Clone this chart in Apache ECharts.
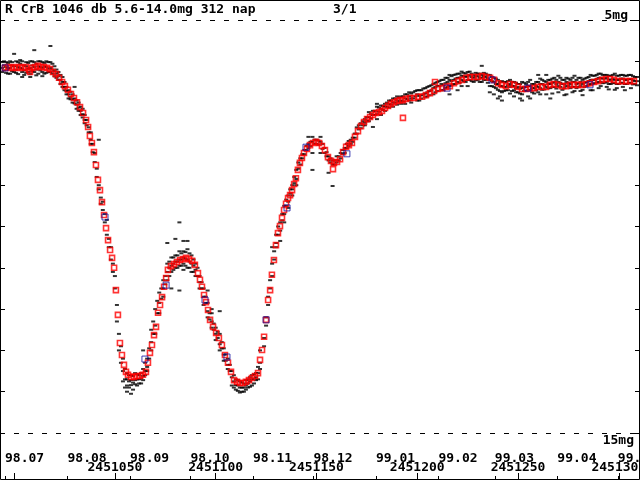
<!DOCTYPE html>
<html>
<head>
<meta charset="utf-8">
<script src="https://cdn.jsdelivr.net/npm/echarts@6/dist/echarts.min.js"></script>
<style>
  html, body { margin: 0; padding: 0; background: #fff; }
  #chart { width: 640px; height: 480px; }
</style>
</head>
<body>
<div id="chart"></div>
<script>
// days are counted from JD 2451000
var JD0 = 2451000

var titleText = 'R CrB 1046 db 5.6-14.0mg 312 nap'
var pageText = '3/1'

// month starts (JD) and their labels
var monthTicks = [2450995.5, 2451026.5, 2451057.5, 2451087.5, 2451118.5, 2451148.5,
  2451179.5, 2451210.5, 2451238.5, 2451269.5, 2451299.5]
var monthLabels = ['98.07', '98.08', '98.09', '98.10', '98.11', '98.12',
  '99.01', '99.02', '99.03', '99.04', '99.05']
var jdTicks = [2451000, 2451050, 2451100, 2451150, 2451200, 2451250, 2451300]
var jdLabels = [2451050, 2451100, 2451150, 2451200, 2451250, 2451300]
var magTicks = [5, 6, 7, 8, 9, 10, 11, 12, 13, 14, 15]

// single observations, grouped per day: [day, [mags]] (even days)
var observations = [
  [-6, [6.16, 6.02, 6.26]], [-4, [6.14, 6.28, 6.02]], [-2, [6.0, 6.16, 6.30]],
  [0, [6.12, 6.26, 5.82]], [2, [6.02, 6.14, 6.31]], [4, [6.0, 6.18, 6.26, 6.38]],
  [6, [6.02, 6.12, 6.28]], [8, [6.0, 6.16, 6.31, 6.38]], [10, [6.02, 6.14, 6.26, 5.73]],
  [12, [6.0, 6.12, 6.30]], [14, [6.02, 6.16, 6.26, 6.36]], [16, [6.0, 6.14, 6.28]],
  [18, [5.63, 6.02, 6.16, 6.26]], [20, [6.12, 6.24, 6.36]], [22, [6.26, 6.36, 6.45]],
  [24, [6.38, 6.50, 6.62]], [26, [6.62, 6.72, 6.80]], [28, [6.74, 6.86, 6.92]],
  [30, [6.62, 6.90, 7.02]], [32, [7.0, 7.12, 7.2]], [34, [7.15, 7.28, 7.36]],
  [36, [7.42, 7.55]], [38, [7.72, 7.9, 8.0]], [40, [8.22, 8.44]],
  [42, [9.0, 9.1, 7.9]], [44, [9.4, 9.6]], [46, [9.84, 10.2]], [48, [10.5, 10.8]],
  [50, [11.2, 11.5]], [51, [11.9, 12.3]], [52, [12.6, 13.0]], [53, [12.9, 13.3]],
  [54, [13.2, 13.5, 13.75]], [55, [13.45, 13.7, 13.9]], [56, [13.55, 13.7, 13.85, 14.0]],
  [58, [13.6, 13.72, 13.84, 14.05]], [60, [13.55, 13.72, 13.82]], [62, [13.6, 13.7, 13.8]],
  [64, [13.45, 13.62, 13.72, 13.0]], [66, [13.2, 13.4, 13.5]], [67, [12.95, 13.2]],
  [68, [12.5, 12.8, 13.0]], [70, [12.0, 12.4, 12.6]], [72, [11.6, 11.85, 12.1]],
  [74, [11.3, 11.5, 11.7]], [76, [10.9, 11.1, 11.3, 10.4]], [78, [10.75, 10.95, 11.1, 11.5]],
  [80, [10.7, 10.85, 11.0, 10.3]], [82, [10.6, 10.8, 10.95, 11.55, 9.9]],
  [84, [10.6, 10.75, 10.9, 10.35, 11.05]], [86, [10.55, 10.8, 11.0, 10.35]],
  [88, [10.7, 10.9, 11.1]], [90, [10.9, 11.05, 11.2]], [92, [11.2, 11.35, 11.5]],
  [94, [11.5, 11.7, 11.9]], [96, [11.85, 12.05, 12.2, 11.55]], [98, [12.1, 12.3, 12.45, 12.0]],
  [100, [12.45, 12.6, 12.75]], [102, [12.6, 12.85, 13.0, 12.05]], [104, [12.95, 13.1, 13.25]],
  [106, [13.2, 13.35, 13.45]], [108, [13.5, 13.65, 13.85]], [110, [13.7, 13.84, 13.95]],
  [112, [13.75, 13.9, 14.02]], [114, [13.8, 13.9, 14.0]], [116, [13.7, 13.8, 13.9]],
  [118, [13.6, 13.7, 13.85]], [120, [13.55, 13.65, 13.72]], [122, [13.0, 13.3, 13.45]],
  [124, [12.7, 12.9]], [126, [11.7, 11.9]], [128, [10.9, 11.2, 10.5]], [130, [10.2, 10.5, 10.4]],
  [132, [9.9, 10.1, 10.35]], [134, [9.5, 9.7, 9.9]], [136, [9.25, 9.4, 9.55]],
  [138, [9.0, 9.1, 9.25]], [140, [8.63, 8.85, 9.0]], [142, [8.35, 8.5]], [144, [8.15, 8.25]],
  [146, [7.83, 8.0, 8.1]], [148, [7.83, 7.95, 8.22, 8.63]], [150, [7.9, 8.0]],
  [152, [7.83, 7.95, 8.22]], [154, [8.1, 8.22]], [156, [8.3, 8.4, 8.7]], [158, [8.4, 8.5, 9.02]],
  [160, [8.3, 8.45]], [162, [8.22, 8.35]], [164, [8.1, 8.22]], [166, [7.93, 8.05]],
  [168, [7.85, 7.95]], [170, [7.6, 7.75]], [172, [7.5, 7.62]], [174, [7.4, 7.49, 7.55]],
  [176, [7.23, 7.35, 7.45]], [178, [7.2, 7.3, 7.59]], [180, [7.03, 7.1, 7.28, 7.4]],
  [182, [7.07, 7.15, 7.3]], [184, [7.03, 7.1, 7.2]], [186, [6.95, 7.03, 7.12]],
  [188, [6.9, 7.0, 7.1]], [190, [6.85, 6.95, 7.05]], [192, [6.85, 6.95, 7.03]],
  [194, [6.8, 6.9, 7.03]], [196, [6.75, 6.85, 6.95]], [198, [6.75, 6.9]],
  [200, [6.7, 6.8, 6.95]], [202, [6.7, 6.82, 6.9]], [204, [6.65, 6.78, 6.87]],
  [206, [6.6, 6.72, 6.82]], [208, [6.55, 6.65, 6.8]], [210, [6.5, 6.6, 6.72]],
  [212, [6.45, 6.55, 6.7]], [214, [6.4, 6.53, 6.65]], [216, [6.33, 6.45, 6.6, 6.8]],
  [218, [6.33, 6.45, 6.55]], [220, [6.3, 6.4, 6.5, 6.7]], [222, [6.25, 6.35, 6.45, 6.6]],
  [224, [6.3, 6.38, 6.5]], [226, [6.25, 6.33, 6.45]], [228, [6.33, 6.4, 6.5]],
  [230, [6.3, 6.36, 6.45]], [232, [6.11, 6.33, 6.4, 6.5]], [234, [6.3, 6.38, 6.45]],
  [236, [6.33, 6.45, 6.6, 6.75]], [238, [6.4, 6.5, 6.62, 6.8]], [240, [6.45, 6.55, 6.69, 6.9]],
  [242, [6.48, 6.6, 6.75, 6.95]], [244, [6.5, 6.62, 6.7]], [246, [6.45, 6.55, 6.62, 6.78]],
  [248, [6.5, 6.6, 6.7, 6.85]], [250, [6.55, 6.62, 6.75]], [252, [6.5, 6.65, 6.8, 6.95]],
  [254, [6.55, 6.62, 6.72]], [256, [6.45, 6.6, 6.7, 6.9]], [258, [6.55, 6.65, 6.78]],
  [260, [6.33, 6.5, 6.62, 6.75]], [262, [6.45, 6.55, 6.69]], [264, [6.33, 6.5, 6.62, 6.8]],
  [266, [6.45, 6.55, 6.65, 6.9]], [268, [6.4, 6.5, 6.62]], [270, [6.35, 6.5, 6.6, 6.75]],
  [272, [6.45, 6.55, 6.69]], [274, [6.4, 6.5, 6.6, 6.8]], [276, [6.45, 6.55, 6.65]],
  [278, [6.35, 6.5, 6.62, 6.72]], [280, [6.4, 6.53, 6.62]], [282, [6.45, 6.55, 6.69, 6.82]],
  [284, [6.4, 6.5, 6.6]], [286, [6.33, 6.45, 6.55, 6.7]], [288, [6.35, 6.45, 6.53]],
  [290, [6.3, 6.4, 6.5, 6.65]], [292, [6.33, 6.42, 6.53]], [294, [6.33, 6.4, 6.5, 6.62]],
  [296, [6.35, 6.45, 6.55]], [298, [6.3, 6.45, 6.53, 6.69]], [300, [6.35, 6.45, 6.55]],
  [302, [6.33, 6.42, 6.53, 6.62]], [304, [6.35, 6.45, 6.55]], [306, [6.33, 6.43, 6.53, 6.65]],
  [308, [6.38, 6.48, 6.55]]
]

// more observations (odd days)
var observationsOdd = [
  [-5, [6.1, 6.22, 6.0]], [-3, [6.04, 6.18, 6.3]], [-1, [6.1, 6.24, 6.02]], [1, [6.0, 6.2, 6.28]],
  [3, [6.06, 6.16, 5.97]], [5, [6.1, 6.22, 6.33]], [7, [6.04, 6.18, 6.26]], [9, [6.0, 6.1, 6.24]],
  [11, [6.06, 6.2, 6.34]], [13, [6.0, 6.14, 6.22]], [15, [6.04, 6.12, 6.3]], [17, [6.02, 6.18, 6.26]],
  [19, [6.06, 6.2, 6.3]], [21, [6.2, 6.3, 6.4]], [23, [6.33, 6.45, 6.55]],
  [25, [6.5, 6.62, 6.7]], [27, [6.7, 6.8, 6.9]], [29, [6.8, 6.92, 7.0]], [31, [6.95, 7.05, 7.15]],
  [33, [7.1, 7.2, 7.3]], [35, [7.3, 7.42, 7.5]], [37, [7.6, 7.72]], [39, [8.0, 8.2]],
  [41, [8.6, 8.8]], [43, [9.3, 9.45]], [45, [9.7, 9.9]], [47, [10.3, 10.5]], [49, [10.9, 11.1]],
  [57, [13.6, 13.75, 13.9]], [59, [13.62, 13.78, 13.95]], [61, [13.58, 13.7, 13.85]],
  [63, [13.55, 13.68, 13.8]], [65, [13.3, 13.5, 13.6]], [69, [12.3, 12.6]], [71, [11.8, 12.1]],
  [73, [11.5, 11.75]], [75, [11.2, 11.4]], [77, [10.85, 11.0, 11.2]], [79, [10.75, 10.9, 11.05]],
  [81, [10.7, 10.85, 11.0]], [83, [10.65, 10.8, 10.95]], [85, [10.62, 10.78, 10.95]],
  [87, [10.65, 10.85, 11.0]], [89, [10.8, 10.95, 11.1]], [91, [11.0, 11.2]], [93, [11.35, 11.5]],
  [95, [11.7, 11.85]], [97, [12.1, 12.25]], [99, [12.35, 12.5]], [101, [12.55, 12.7]],
  [103, [12.8, 12.95]], [105, [13.1, 13.25]], [107, [13.35, 13.5]], [109, [13.6, 13.75, 13.9]],
  [111, [13.72, 13.85, 13.98]], [113, [13.78, 13.9, 14.0]], [115, [13.72, 13.85, 13.95]],
  [117, [13.65, 13.75, 13.88]], [119, [13.58, 13.68, 13.8]], [121, [13.4, 13.55, 13.7]],
  [125, [12.2, 12.4]], [127, [11.3, 11.5]], [129, [10.6, 10.8]], [131, [10.0, 10.2]],
  [133, [9.7, 9.85]], [135, [9.35, 9.5]], [137, [9.1, 9.2]], [139, [8.8, 8.95]],
  [141, [8.45, 8.6]], [143, [8.25, 8.35]], [145, [8.05, 8.15]], [147, [7.95, 8.05]],
  [149, [7.9, 8.0]], [151, [7.92, 8.02]], [153, [8.0, 8.12]], [155, [8.2, 8.3]],
  [157, [8.35, 8.45]], [159, [8.4, 8.5]], [161, [8.3, 8.4]], [163, [8.15, 8.25]],
  [165, [8.0, 8.1]], [167, [7.9, 8.0]], [169, [7.75, 7.85]], [171, [7.55, 7.65]],
  [173, [7.45, 7.55]], [175, [7.35, 7.45]], [177, [7.28, 7.38]], [179, [7.2, 7.3]],
  [181, [7.12, 7.22]], [183, [7.08, 7.18]], [185, [7.0, 7.1]], [187, [6.95, 7.05]], [189, [6.9, 7.0]],
  [191, [6.88, 6.98]], [193, [6.85, 6.97]], [195, [6.8, 6.92]], [197, [6.78, 6.9, 7.0]],
  [199, [6.72, 6.85]], [201, [6.7, 6.84, 6.95]], [203, [6.66, 6.8]], [205, [6.62, 6.75, 6.85]],
  [207, [6.58, 6.7]], [209, [6.52, 6.62, 6.75]], [211, [6.48, 6.6]], [213, [6.45, 6.58, 6.7]],
  [215, [6.4, 6.5, 6.62]], [217, [6.36, 6.48, 6.58]], [219, [6.32, 6.42, 6.55]],
  [221, [6.3, 6.4, 6.52]], [223, [6.28, 6.36, 6.48]], [225, [6.26, 6.36, 6.45, 6.6]],
  [227, [6.3, 6.38, 6.48]], [229, [6.28, 6.36, 6.46]], [231, [6.3, 6.4, 6.5]],
  [233, [6.28, 6.36, 6.45]], [235, [6.33, 6.42, 6.52]], [237, [6.38, 6.48, 6.6]],
  [239, [6.42, 6.55, 6.65]], [241, [6.5, 6.6, 6.72, 6.85]], [243, [6.5, 6.62, 6.72]],
  [245, [6.48, 6.58, 6.7]], [247, [6.5, 6.6, 6.72]], [249, [6.52, 6.65, 6.75]],
  [251, [6.55, 6.66, 6.78, 6.9]], [253, [6.52, 6.62, 6.72]], [255, [6.5, 6.6, 6.7, 6.85]],
  [257, [6.55, 6.65, 6.75]], [259, [6.5, 6.6, 6.7]], [261, [6.42, 6.55, 6.65, 6.8]],
  [263, [6.48, 6.58, 6.68]], [265, [6.45, 6.55, 6.65]], [267, [6.42, 6.52, 6.62, 6.78]],
  [269, [6.45, 6.55, 6.66]], [271, [6.4, 6.52, 6.62]], [273, [6.45, 6.55, 6.65, 6.82]],
  [275, [6.42, 6.52, 6.6]], [277, [6.4, 6.5, 6.62, 6.75]], [279, [6.45, 6.55, 6.65]],
  [281, [6.4, 6.5, 6.6, 6.72]], [283, [6.42, 6.52, 6.62]], [285, [6.38, 6.48, 6.58]],
  [287, [6.35, 6.45, 6.55, 6.7]], [289, [6.33, 6.43, 6.52]], [291, [6.3, 6.4, 6.5, 6.6]],
  [293, [6.33, 6.42, 6.52]], [295, [6.35, 6.44, 6.55, 6.68]], [297, [6.33, 6.43, 6.52]],
  [299, [6.35, 6.45, 6.55, 6.65]], [301, [6.33, 6.42, 6.52]], [303, [6.35, 6.45, 6.55, 6.7]],
  [305, [6.33, 6.43, 6.52]], [307, [6.36, 6.46, 6.56]], [309, [6.38, 6.48, 6.58]]
]

// running means (red squares): [day, mag]
var means = [
  [-4.5, 6.16], [-3, 6.14], [-1.5, 6.16], [0, 6.14], [1.4, 6.16], [2.9, 6.14], [4.4, 6.16],
  [5.9, 6.14], [7.4, 6.21], [7.9, 6.26], [8.9, 6.16], [10.4, 6.14], [11.9, 6.11], [13.3, 6.14],
  [14.8, 6.14], [16.3, 6.16], [17.8, 6.19], [19.3, 6.26], [20.8, 6.31], [22.3, 6.40],
  [23.8, 6.50], [25.2, 6.60], [26.7, 6.69], [28.2, 6.79], [29.7, 6.89], [31.2, 6.99],
  [32.7, 7.11], [34.2, 7.25], [35.7, 7.42], [36.7, 7.59], [37.6, 7.81], [38.6, 7.98],
  [39.6, 8.20], [40.6, 8.51], [41.6, 8.87], [42.6, 9.12], [43.6, 9.41], [44.6, 9.72],
  [45.6, 10.04], [46.6, 10.33], [47.6, 10.57], [48.6, 10.76], [49.6, 11.00], [50.5, 11.54],
  [51.5, 12.14], [52.5, 12.82], [53.5, 13.11], [54.5, 13.35], [55.5, 13.52], [56.5, 13.59],
  [58.0, 13.64], [59.5, 13.64], [61.0, 13.62], [62.5, 13.62], [63.9, 13.59], [65.4, 13.52],
  [66.4, 13.30], [67.4, 13.06], [68.4, 12.87], [69.4, 12.63], [70.4, 12.43], [71.4, 12.09],
  [72.4, 11.90], [73.4, 11.71], [74.4, 11.46], [75.4, 11.25], [76.3, 11.05], [77.8, 10.96],
  [79.3, 10.91], [80.8, 10.86], [82.3, 10.81], [83.8, 10.79], [85.3, 10.76], [86.8, 10.79],
  [88.3, 10.83], [89.7, 10.93], [91.2, 11.13], [92.2, 11.29], [93.2, 11.46], [94.2, 11.66],
  [95.2, 11.83], [96.2, 12.02], [97.2, 12.26], [98.7, 12.43], [100.2, 12.58], [101.6, 12.70],
  [103.1, 12.87], [104.6, 13.11], [106.1, 13.30], [107.6, 13.52], [109.1, 13.72],
  [110.6, 13.76], [112.1, 13.79], [113.6, 13.79], [115.0, 13.76], [116.5, 13.72],
  [118.0, 13.67], [119.5, 13.62], [121.0, 13.55], [122.0, 13.23], [123.0, 12.99],
  [124.0, 12.67], [125.0, 12.26], [126.0, 11.78], [127.0, 11.54], [127.9, 11.17],
  [128.9, 10.81], [129.9, 10.45], [130.9, 10.16], [131.9, 9.99], [132.9, 9.79], [133.9, 9.60],
  [134.9, 9.45], [135.9, 9.31], [136.9, 9.24], [137.9, 9.12], [138.9, 8.97], [139.8, 8.83],
  [140.8, 8.63], [141.8, 8.46], [142.8, 8.34], [143.8, 8.22], [145.3, 8.12], [146.8, 8.03],
  [148.3, 7.98], [149.8, 7.95], [151.3, 7.98], [152.7, 8.05], [154.2, 8.15], [155.7, 8.32],
  [157.2, 8.41], [158.2, 8.61], [158.7, 8.46], [160.2, 8.44], [161.7, 8.37], [163.2, 8.20],
  [164.7, 8.07], [166.1, 8.03], [167.6, 7.98], [169.1, 7.83], [170.6, 7.69], [172.1, 7.57],
  [173.6, 7.47], [175.1, 7.40], [176.6, 7.35], [178.0, 7.30], [179.5, 7.25], [181.0, 7.23],
  [182.5, 7.20], [184.0, 7.13], [185.5, 7.08], [187.0, 7.03], [188.5, 6.99], [190.0, 6.96],
  [191.4, 6.94], [192.9, 6.94], [192.9, 7.37], [194.4, 6.91], [196.4, 6.89], [198.4, 6.89],
  [200.4, 6.86], [202.4, 6.86], [204.3, 6.82], [206.3, 6.77], [208.3, 6.72], [208.8, 6.50],
  [210.3, 6.67], [212.3, 6.65], [214.3, 6.62], [216.2, 6.60], [218.2, 6.53], [220.2, 6.48],
  [222.2, 6.45], [224.2, 6.40], [226.2, 6.38], [228.2, 6.38], [230.1, 6.38], [232.1, 6.36],
  [234.1, 6.38], [236.1, 6.40], [238.1, 6.45], [240.1, 6.53], [242.0, 6.57], [244.0, 6.60],
  [246.0, 6.55], [248.0, 6.57], [250.0, 6.62], [252.0, 6.67], [254.0, 6.67], [255.9, 6.65],
  [257.9, 6.65], [259.9, 6.62], [261.9, 6.62], [263.9, 6.62], [265.9, 6.57], [267.8, 6.55],
  [269.8, 6.57], [271.8, 6.60], [273.8, 6.60], [275.8, 6.57], [277.8, 6.57], [279.7, 6.57],
  [281.7, 6.57], [283.7, 6.55], [285.7, 6.53], [287.7, 6.50], [289.7, 6.48], [291.7, 6.45],
  [293.6, 6.43], [295.6, 6.43], [297.6, 6.45], [299.6, 6.48], [301.6, 6.48], [303.6, 6.48],
  [305.5, 6.48], [307.5, 6.48]
]

// few means drawn in blue
var blueMeans = [
  [-4.5, 6.16], [45.1, 9.77], [64.9, 13.21], [75.4, 11.42], [94.7, 11.78], [105.6, 13.16],
  [125.0, 12.26], [135.4, 9.55], [144.8, 8.08], [165.1, 8.24], [214.8, 6.65], [237.1, 6.45],
  [254.9, 6.65], [285.7, 6.57]
]

var obsData = []
observations.concat(observationsOdd).forEach(function (row) {
  row[1].forEach(function (m) { obsData.push([JD0 + row[0], m]) })
})
var meanData = means.map(function (p) { return [JD0 + p[0], p[1]] })
var blueData = blueMeans.map(function (p) { return [JD0 + p[0], p[1]] })

var font = 'DejaVu Sans Mono'
var textStyle = { fontFamily: font, fontWeight: 'bold', fontSize: 13, color: '#000' }

var myChart = echarts.init(document.getElementById('chart'))
myChart.setOption({
  animation: false,
  backgroundColor: '#fff',
  grid: { left: 0, right: 0, top: 20, bottom: 47, outerBoundsMode: 'none', containLabel: false },
  xAxis: [
    {
      type: 'value', min: 2450993, max: 2451310.5, position: 'bottom', offset: 46,
      axisLine: { show: false }, splitLine: { show: false },
      axisTick: { inside: true, length: 3, lineStyle: { color: '#000' }, customValues: monthTicks },
      axisLabel: Object.assign({
        inside: true, margin: 14, align: 'left', customValues: monthTicks,
        formatter: function (v) {
          var i = monthTicks.indexOf(v)
          return i >= 0 ? monthLabels[i] : ''
        }
      }, textStyle)
    },
    {
      type: 'value', min: 2450993, max: 2451310.5, position: 'bottom', offset: 46,
      axisLine: { show: false }, splitLine: { show: false },
      axisTick: { inside: true, length: 6, lineStyle: { color: '#000' }, customValues: jdTicks },
      axisLabel: Object.assign({
        inside: true, margin: 5, align: 'center', customValues: jdLabels,
        formatter: function (v) { return String(v) }
      }, textStyle)
    }
  ],
  yAxis: [
    {
      type: 'value', min: 5, max: 15, inverse: true, position: 'left',
      axisLine: { show: false }, splitLine: { show: false }, axisLabel: { show: false },
      axisTick: { inside: true, length: 5, lineStyle: { color: '#000' }, customValues: magTicks }
    },
    {
      type: 'value', min: 5, max: 15, inverse: true, position: 'right',
      axisLine: { show: false }, splitLine: { show: false }, axisLabel: { show: false },
      axisTick: { inside: true, length: 5, lineStyle: { color: '#000' }, customValues: magTicks }
    }
  ],
  series: [
    {
      type: 'scatter', data: obsData, symbol: 'rect', symbolSize: [4, 2],
      itemStyle: { color: '#000' }, silent: true,
      markLine: {
        silent: true, symbol: 'none', label: { show: false },
        lineStyle: { color: '#000', type: [5, 9], width: 1 },
        data: [{ yAxis: 5 }, { yAxis: 15 }]
      }
    },
    {
      type: 'scatter', data: meanData, symbol: 'rect', symbolSize: 5, silent: true,
      itemStyle: { color: 'rgba(255,255,255,0)', borderColor: '#ff0000', borderWidth: 1.6 }
    },
    {
      type: 'scatter', data: blueData, symbol: 'rect', symbolSize: 6, silent: true,
      itemStyle: { color: 'rgba(255,255,255,0)', borderColor: '#1010a0', borderWidth: 1 }
    }
  ],
  graphic: [
    { type: 'rect', shape: { x: 0.5, y: 0.5, width: 639, height: 479 },
      style: { fill: 'none', stroke: '#000', lineWidth: 1 }, silent: true },
    { type: 'text', left: 5, top: 3, style: { text: titleText, font: 'bold 13px "' + font + '"', fill: '#000' } },
    { type: 'text', left: 333, top: 3, style: { text: pageText, font: 'bold 13px "' + font + '"', fill: '#000' } },
    { type: 'text', right: 12, top: 9, style: { text: '5mg', font: 'bold 13px "' + font + '"', fill: '#000' } },
    { type: 'text', right: 6, top: 434, style: { text: '15mg', font: 'bold 13px "' + font + '"', fill: '#000' } }
  ]
})
</script>
</body>
</html>
